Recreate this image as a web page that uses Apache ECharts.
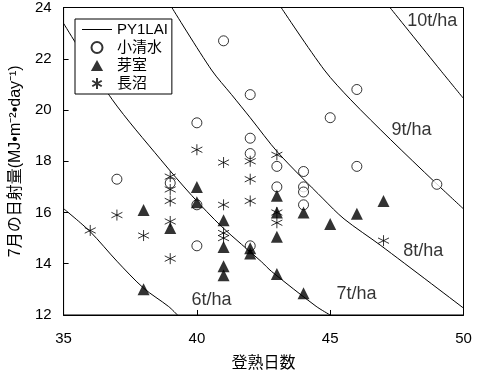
<!DOCTYPE html>
<html>
<head>
<meta charset="utf-8">
<script src="https://cdn.jsdelivr.net/npm/echarts@6/dist/echarts.min.js"></script>
<style>
  html, body { margin: 0; padding: 0; background: #fff; }
  #main { width: 477px; height: 377px; }
</style>
</head>
<body>
<div id="main"></div>
<script>
// 小清水
const koshimizu = [[41,22.7],[42,20.6],[46,20.8],[40,19.5],[45,19.7],[42,18.9],[42,18.3],[43,17.8],[44,17.6],[46,17.8],
  [37,17.3],[39,17.15],[43,17.0],[44,17.0],[44,16.8],[44,16.3],[40,16.3],[49,17.1],[40,14.7],[42,14.7]];
// 芽室
const memuro = [[38,16.1],[38,13.0],[39,15.4],[40,17.0],[40,16.4],[41,15.7],[41,14.65],[41,13.9],[41,13.55],[42,14.6],
  [42,14.4],[43,16.65],[43,16.0],[43,15.05],[43,13.6],[44,16.0],[44,12.85],[45,15.55],[46,15.95],[47,16.45]];
// 長沼
const naganuma = [[36,15.3],[37,15.9],[38,15.1],[39,17.4],[39,16.9],[39,16.45],[39,15.65],[39,14.2],[40,18.45],[41,17.95],
  [41,16.3],[41,15.2],[41,15.0],[42,18.0],[42,17.3],[42,16.45],[43,18.25],[43,16.0],[43,15.6],[47,14.9]];

// PY1LAI isolines
const py6 = [[35,16.15],[36,15.25],[37,14.1],[38,13.05],[38.94,12.33],[39.27,12]];
const py7 = [[35,23.38],[36.83,20.4],[38.63,18.08],[39.81,16.66],[40.93,15.45],[42.42,14.08],[42.8,13.7],[44.47,12.34],[45.0,12]];
const py8 = [[39.06,24],[40.55,21.56],[41.3,20.6],[42.0,19.7],[43.04,18.34],[44.74,16.53],[45.52,15.75],[46.9,14.71],[50,12.27]];
const py9 = [[43.16,24],[44.78,21.56],[45.77,20.4],[47.26,18.85],[48.94,17.17],[50,16.14]];
const py10 = [[47.24,24],[49.13,21.56],[50,20.45]];

const curveLabels = ['10t/ha','9t/ha','8t/ha','7t/ha','6t/ha'];
const labelX = [48.83, 48.05, 48.49, 45.99, 40.55];
const labelY = [23.46, 19.2, 14.51, 12.81, 12.58];

const xTicks = [35, 50, 5];
const yTicks = [12, 24, 2];

const font = "'Liberation Sans', 'Noto Sans CJK JP', sans-serif";
const starPath = 'path://M5,0L5,10M0.7,2.5L9.3,7.5M0.7,7.5L9.3,2.5';
const triPath = 'path://M5,0L10,9L0,9Z';
const linePath = 'path://M0,0L30,0L30,1L0,1Z';

const chart = echarts.init(document.getElementById('main'));

const curveSeries = [py6, py7, py8, py9, py10].map(d => ({
  name: 'PY1LAI',
  type: 'line',
  data: d,
  smooth: 0.3,
  symbol: 'none',
  lineStyle: {color: '#000', width: 1},
  itemStyle: {color: '#000'},
  z: 1
}));

chart.setOption({
  animation: false,
  backgroundColor: '#fff',
  textStyle: {fontFamily: font, color: '#000'},
  grid: {left: 61, right: 13.5, top: 7, bottom: 60, show: true, borderColor: '#000', borderWidth: 1},
  legend: {
    orient: 'vertical',
    left: 75, top: 19,
    padding: [3, 4, 3, 7],
    itemGap: 3,
    itemWidth: 30,
    itemHeight: 11,
    borderColor: '#000',
    borderWidth: 1,
    backgroundColor: '#fff',
    data: [{name: 'PY1LAI', icon: linePath}, '小清水', '芽室', '長沼'],
    textStyle: {fontFamily: font, fontSize: 15, color: '#000'}
  },
  xAxis: {
    type: 'value', min: xTicks[0], max: xTicks[1], interval: xTicks[2],
    name: '登熟日数', nameLocation: 'middle', nameGap: 41,
    nameTextStyle: {fontFamily: font, fontSize: 16, color: '#000'},
    axisLine: {lineStyle: {color: '#000', width: 1}},
    axisTick: {inside: true, length: 5, lineStyle: {color: '#000'}},
    axisLabel: {color: '#000', fontSize: 15, margin: 16, fontFamily: font},
    splitLine: {show: false}
  },
  yAxis: {
    type: 'value', min: yTicks[0], max: yTicks[1], interval: yTicks[2],
    name: '7月の日射量(MJ•m⁻²•day⁻¹)', nameLocation: 'middle', nameGap: 36,
    nameTextStyle: {fontFamily: font, fontSize: 16, color: '#000'},
    axisLine: {lineStyle: {color: '#000', width: 1}},
    axisTick: {inside: true, length: 5, lineStyle: {color: '#000'}},
    axisLabel: {color: '#000', fontSize: 15, margin: 12, fontFamily: font},
    splitLine: {show: false}
  },
  series: [
    ...curveSeries,
    {
      name: '小清水', type: 'scatter', data: koshimizu,
      symbol: 'circle', symbolSize: 10,
      itemStyle: {color: '#fff', borderColor: '#000', borderWidth: 1}, z: 3
    },
    {
      name: '芽室', type: 'scatter', data: memuro,
      symbol: triPath, symbolSize: 12,
      itemStyle: {color: '#000', borderColor: '#000', borderWidth: 0}, z: 4
    },
    {
      name: '長沼', type: 'scatter', data: naganuma,
      symbol: starPath, symbolSize: 11,
      itemStyle: {color: '#000', borderColor: '#000', borderWidth: 1}, z: 5
    },
    {
      name: 'labels', type: 'scatter',
      data: curveLabels.map((t, i) => ({value: [labelX[i], labelY[i]], name: t})),
      symbolSize: 0, silent: true,
      label: {show: true, position: 'inside', formatter: p => p.name,
        fontFamily: font, fontSize: 18, color: '#000'}
    }
  ]
});
</script>
</body>
</html>
